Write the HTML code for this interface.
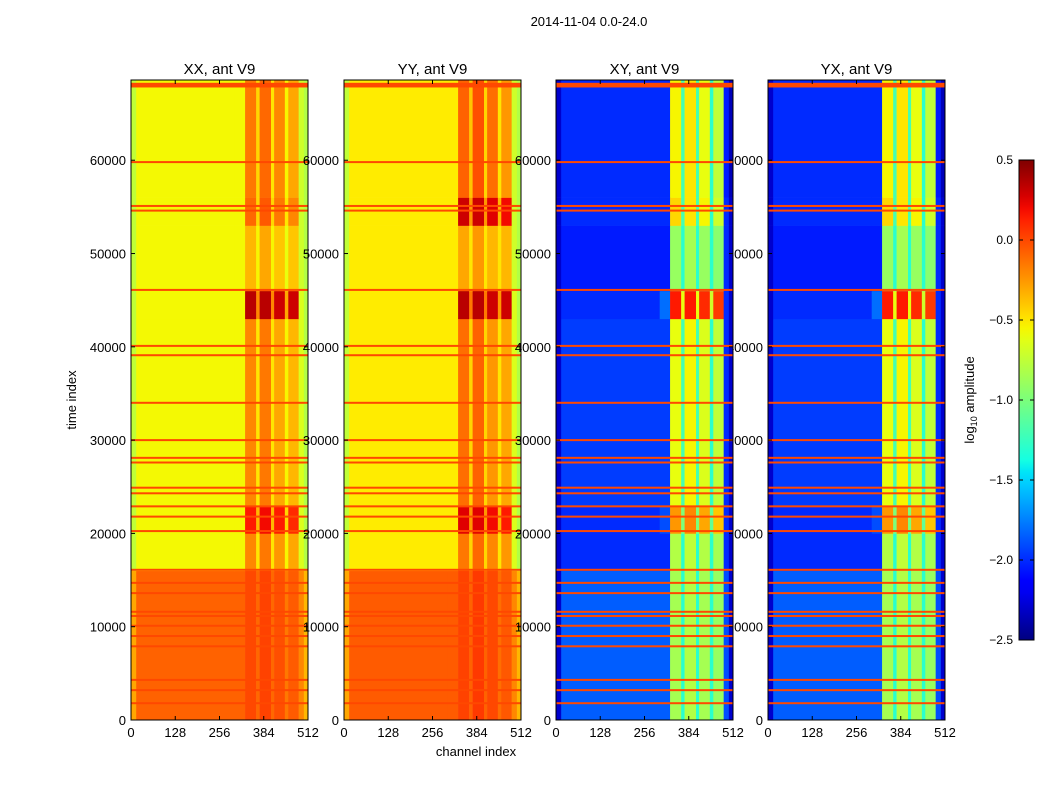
<!DOCTYPE html>
<html><head><meta charset="utf-8">
<style>
body{margin:0;background:#fff;width:1050px;height:800px;overflow:hidden;font-family:"Liberation Sans","DejaVu Sans",sans-serif}
svg text{font-family:"Liberation Sans","DejaVu Sans",sans-serif}
</style></head>
<body>
<svg id="chart" width="1050" height="800" xmlns="http://www.w3.org/2000/svg">
<rect width="1050" height="800" fill="#fff"/>
<text x="589" y="26" font-size="13" text-anchor="middle">2014-11-04 0.0-24.0</text>
<text x="476" y="756" font-size="13" text-anchor="middle">channel index</text>
<text x="0" y="0" font-size="13" text-anchor="middle" transform="translate(76,400) rotate(-90)">time index</text>
<g id="labelsBack"></g>
<g id="panels"></g>
<g id="cbar"></g>
</svg>
<script>
// ---- data ----
const panelTitles = ["XX, ant V9","YY, ant V9","XY, ant V9","YX, ant V9"];
const chanBounds = [0,15,300,330,362,372,405,414,445,455,485,500,512];
const timeBounds = [0,16000,20000,23000,43000,46000,53000,56000,68600];
const valsXX = [
[-0.3,-0.08,-0.08,0.0,-0.1,0.02,-0.1,-0.02,-0.15,-0.06,-0.2,-0.35],
[-0.75,-0.56,-0.56,-0.2,-0.5,-0.15,-0.5,-0.25,-0.55,-0.3,-0.65,-0.8],
[-0.75,-0.56,-0.56,0.15,-0.35,0.2,-0.35,0.15,-0.45,0.1,-0.65,-0.8],
[-0.75,-0.56,-0.56,-0.2,-0.5,-0.15,-0.5,-0.3,-0.55,-0.35,-0.65,-0.8],
[-0.75,-0.56,-0.56,0.35,-0.2,0.35,-0.2,0.3,-0.3,0.3,-0.65,-0.8],
[-0.75,-0.56,-0.56,-0.35,-0.55,-0.3,-0.55,-0.4,-0.6,-0.4,-0.7,-0.8],
[-0.75,-0.56,-0.56,-0.1,-0.45,-0.05,-0.45,-0.15,-0.5,-0.2,-0.7,-0.8],
[-0.75,-0.56,-0.56,-0.15,-0.45,-0.1,-0.5,-0.2,-0.55,-0.3,-0.7,-0.8]];
const valsYY = [
[-0.3,-0.06,-0.06,0.02,-0.08,0.05,-0.08,0.0,-0.12,-0.05,-0.2,-0.35],
[-0.75,-0.52,-0.52,-0.15,-0.45,-0.1,-0.45,-0.2,-0.5,-0.25,-0.65,-0.8],
[-0.75,-0.52,-0.52,0.25,-0.25,0.25,-0.25,0.2,-0.35,0.15,-0.65,-0.8],
[-0.75,-0.52,-0.52,-0.12,-0.45,-0.08,-0.45,-0.25,-0.5,-0.3,-0.65,-0.8],
[-0.75,-0.52,-0.52,0.35,-0.15,0.35,-0.15,0.3,-0.25,0.3,-0.65,-0.8],
[-0.75,-0.52,-0.52,-0.3,-0.5,-0.25,-0.5,-0.35,-0.5,-0.35,-0.7,-0.8],
[-0.75,-0.52,-0.52,0.3,-0.25,0.3,-0.25,0.25,-0.35,0.2,-0.7,-0.8],
[-0.75,-0.52,-0.52,-0.08,-0.4,-0.02,-0.45,-0.12,-0.5,-0.25,-0.7,-0.8]];
const valsXY = [
[-2.3,-1.85,-1.85,-0.85,-1.3,-0.8,-1.3,-0.85,-1.3,-0.9,-1.9,-2.3],
[-2.3,-2.0,-2.0,-0.8,-1.3,-0.75,-1.3,-0.8,-1.3,-0.85,-2.0,-2.3],
[-2.3,-2.0,-1.9,-0.25,-1.0,-0.2,-1.0,-0.3,-1.1,-0.4,-2.0,-2.3],
[-2.3,-1.95,-1.95,-0.6,-1.2,-0.55,-1.2,-0.65,-1.3,-0.75,-2.0,-2.3],
[-2.3,-2.0,-1.8,0.15,-0.6,0.15,-0.6,0.1,-0.7,0.05,-2.0,-2.3],
[-2.3,-2.05,-2.05,-0.9,-1.3,-0.85,-1.3,-0.9,-1.3,-0.95,-2.0,-2.3],
[-2.3,-2.0,-2.0,-0.45,-1.2,-0.5,-1.2,-0.55,-1.3,-0.7,-2.0,-2.3],
[-2.3,-2.0,-2.0,-0.55,-1.2,-0.5,-1.2,-0.6,-1.3,-0.75,-2.05,-2.35]];
const valsYX = [
[-2.3,-1.85,-1.85,-0.85,-1.3,-0.8,-1.3,-0.85,-1.3,-0.9,-1.9,-2.3],
[-2.3,-2.0,-2.0,-0.8,-1.3,-0.75,-1.3,-0.8,-1.3,-0.85,-2.0,-2.3],
[-2.3,-2.0,-1.9,-0.25,-1.0,-0.2,-1.0,-0.3,-1.1,-0.4,-2.0,-2.3],
[-2.3,-1.95,-1.95,-0.6,-1.2,-0.55,-1.2,-0.65,-1.3,-0.75,-2.0,-2.3],
[-2.3,-2.0,-1.8,0.15,-0.6,0.15,-0.6,0.1,-0.7,0.05,-2.0,-2.3],
[-2.3,-2.05,-2.05,-0.9,-1.3,-0.85,-1.3,-0.9,-1.3,-0.95,-2.0,-2.3],
[-2.3,-2.0,-2.0,-0.45,-1.2,-0.5,-1.2,-0.55,-1.3,-0.7,-2.0,-2.3],
[-2.3,-2.0,-2.0,-0.55,-1.2,-0.5,-1.2,-0.6,-1.3,-0.75,-2.05,-2.35]];
const flagTimes = [59800,55100,54600,46100,40100,39100,34000,30000,28100,27600,24900,24300,22900,21800,20250,16100,14700,13600,11600,11150,10100,9000,7900,4300,3200,1800];
const flagValue = 0.0;
const topFlag = [67800,68300];
const xTicks = [0,128,256,384,512];
const yTicks = [0,10000,20000,30000,40000,50000,60000];
const cbarTicks = [0.5,0.0,-0.5,-1.0,-1.5,-2.0,-2.5];
const vmin=-2.5, vmax=0.5, tmax=68600, cmax=512;

// ---- helpers ----
const NS="http://www.w3.org/2000/svg";
const jr=[[0,0],[0.35,0],[0.66,1],[0.89,1],[1,0.5]];
const jg=[[0,0],[0.125,0],[0.375,1],[0.64,1],[0.91,0],[1,0]];
const jb=[[0,0.5],[0.11,1],[0.34,1],[0.65,0],[1,0]];
function seg(s,t){for(let i=0;i<s.length-1;i++){if(t<=s[i+1][0]){const a=s[i],b=s[i+1];return a[1]+(b[1]-a[1])*(t-a[0])/(b[0]-a[0]);}}return s[s.length-1][1];}
function jet(v){
  let t=(v-vmin)/(vmax-vmin); t=Math.max(0,Math.min(1,t));
  return `rgb(${Math.round(seg(jr,t)*255)},${Math.round(seg(jg,t)*255)},${Math.round(seg(jb,t)*255)})`;
}
function mk(tag,attrs,parent){const e=document.createElementNS(NS,tag);for(const k in attrs)e.setAttribute(k,attrs[k]);parent.appendChild(e);return e;}
const panelX=[131,344,556,768], PW=177, PT=80, PB=720;
const yS=t=>PB-t*(PB-PT)/tmax;
const allVals=[valsXX,valsYY,valsXY,valsYX];
const back=document.getElementById('labelsBack'), panels=document.getElementById('panels');

function drawYLabels(p,parent){
  const x0=panelX[p];
  yTicks.forEach(t=>{
    const tx=mk('text',{x:x0-5,y:yS(t)+5,'font-size':13,'text-anchor':'end'},parent);
    
    
    tx.textContent=t;
  });
}
drawYLabels(3,back);

for(let p=0;p<4;p++){
  const x0=panelX[p], xS=c=>x0+c*PW/cmax;
  const g=mk('g',{},panels);
  
  
  if(p<3) drawYLabels(p,g);
  const vals=allVals[p];
  for(let i=0;i<timeBounds.length-1;i++){
    for(let j=0;j<chanBounds.length-1;j++){
      const y1=yS(timeBounds[i+1]), y2=yS(timeBounds[i]);
      const r=mk('rect',{x:xS(chanBounds[j]),y:y1,width:xS(chanBounds[j+1])-xS(chanBounds[j])+0.3,height:y2-y1+0.3,fill:jet(vals[i][j])},g);
      
      
    }
  }
  flagTimes.forEach(t=>{
    const r=mk('rect',{x:x0,y:yS(t)-1,width:PW,height:2,fill:jet(flagValue)},g);
    
    
  });
  const tf=mk('rect',{x:x0,y:yS(topFlag[1]),width:PW,height:yS(topFlag[0])-yS(topFlag[1]),fill:jet(flagValue)},g);
  
  
  const fr=mk('rect',{x:x0,y:PT,width:PW,height:PB-PT,fill:'none',stroke:'#000','stroke-width':1},g);
  
  
  xTicks.forEach(c=>{
    mk('line',{x1:xS(c),x2:xS(c),y1:PB,y2:PB-4,stroke:'#000'},g);
    mk('line',{x1:xS(c),x2:xS(c),y1:PT,y2:PT+4,stroke:'#000'},g);
    const tx=mk('text',{x:xS(c),y:PB+17,'font-size':13,'text-anchor':'middle'},g);
    
    
    tx.textContent=c;
  });
  yTicks.forEach(t=>{
    mk('line',{x1:x0,x2:x0+4,y1:yS(t),y2:yS(t),stroke:'#000'},g);
    mk('line',{x1:x0+PW,x2:x0+PW-4,y1:yS(t),y2:yS(t),stroke:'#000'},g);
  });
  const ti=mk('text',{x:x0+PW/2,y:74,'font-size':15,'text-anchor':'middle'},g);
  
  
  ti.textContent=panelTitles[p];
}

// colorbar
const cb=document.getElementById('cbar');


const CX=1019,CW=15,CT=160,CB=640;
const cyS=v=>CB-(v-vmin)*(CB-CT)/(vmax-vmin);
const defs=mk('defs',{},cb);
const lg=mk('linearGradient',{id:'jetg',x1:0,y1:1,x2:0,y2:0},defs);
for(let k=0;k<=40;k++){mk('stop',{offset:k/40,'stop-color':jet(vmin+k/40*(vmax-vmin))},lg);}
mk('rect',{x:CX,y:CT,width:CW,height:CB-CT,fill:'url(#jetg)',stroke:'#000'},cb);
cbarTicks.forEach(v=>{
  mk('line',{x1:CX,x2:CX+4,y1:cyS(v),y2:cyS(v),stroke:'#000'},cb);
  mk('line',{x1:CX+CW,x2:CX+CW-4,y1:cyS(v),y2:cyS(v),stroke:'#000'},cb);
  const tx=mk('text',{x:1013,y:cyS(v)+4,'font-size':12,'text-anchor':'end'},cb);
  
  
  tx.textContent=(v<0?'\u2212':'')+Math.abs(v).toFixed(1);
});
const cl=mk('text',{x:0,y:0,'font-size':13,'text-anchor':'middle',transform:'translate(974,400) rotate(-90)'},cb);


cl.innerHTML='log<tspan font-size="9" dy="3">10</tspan><tspan dy="-3"> amplitude</tspan>';
</script>
</body></html>
